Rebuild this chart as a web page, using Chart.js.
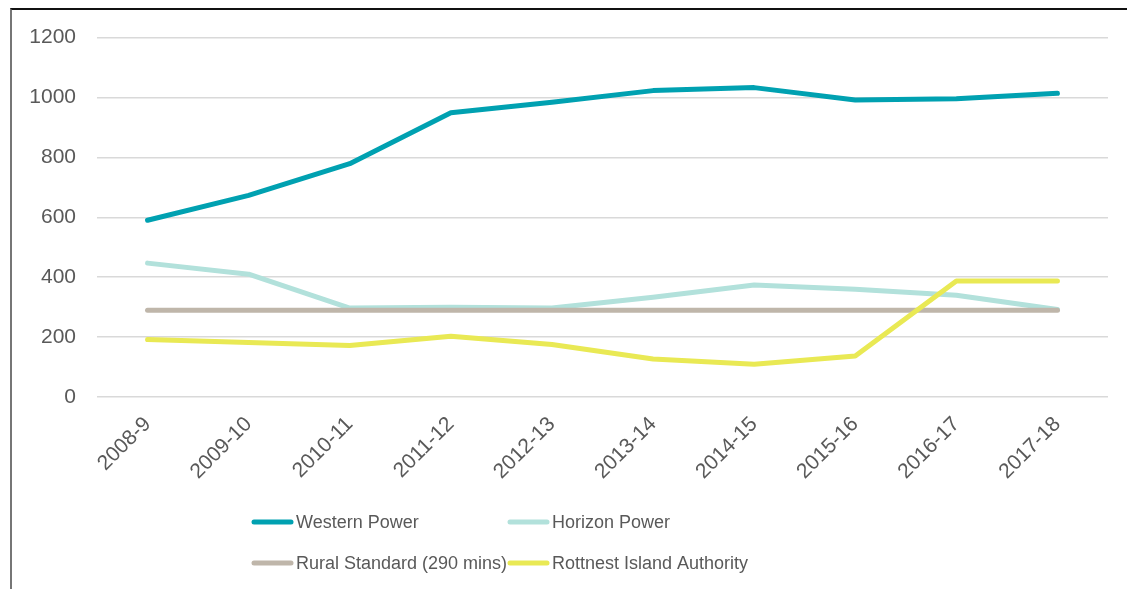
<!DOCTYPE html>
<html>
<head>
<meta charset="utf-8">
<script src="https://cdn.jsdelivr.net/npm/chart.js@4.4.1/dist/chart.umd.min.js"></script>
<style>
  html, body { margin: 0; padding: 0; background: #fff; }
  body { width: 1127px; height: 589px; overflow: hidden; position: relative; }
  #frame { position: absolute; left: 10px; top: 8px; width: 1130px; height: 600px;
           border-left: 2px solid #767676; border-top: 2px solid #111; }
  #wrap { position: absolute; left: 12px; top: 4px; width: 1115px; height: 585px; }
</style>
</head>
<body>
<div id="frame"></div>
<div id="wrap"><canvas id="c"></canvas></div>
<script>
const categories = ["2008-9","2009-10","2010-11","2011-12","2012-13","2013-14","2014-15","2015-16","2016-17","2017-18"];
const westernPower = [590, 673, 779, 949, 984, 1023, 1033, 992, 996, 1014];
const horizonPower = [447, 410, 297, 300, 297, 333, 374, 360, 340, 292];
const ruralStandard = [290, 290, 290, 290, 290, 290, 290, 290, 290, 290];
const rottnest = [192, 182, 172, 203, 175, 127, 109, 137, 387, 387];
const seriesNames = ["Western Power", "Horizon Power", "Rural Standard (290 mins)", "Rottnest Island Authority"];
const yTicks = [0, 200, 400, 600, 800, 1000, 1200];

const colors = ["#00A1B1", "#B2E1DB", "#BFB6AA", "#E9E954"];

const legendPlugin = {
  id: 'gridLegend',
  afterDraw(chart) {
    const ctx = chart.ctx;
    const cols = [240, 496];
    const rows = [518, 559];
    ctx.save();
    ctx.font = '18px "Liberation Sans", Arial, sans-serif';
    ctx.textBaseline = 'middle';
    ctx.textAlign = 'left';
    chart.data.datasets.forEach((ds, i) => {
      const x = cols[i % 2], y = rows[Math.floor(i / 2)];
      ctx.strokeStyle = ds.borderColor;
      ctx.lineWidth = 5;
      ctx.lineCap = 'round';
      ctx.beginPath();
      ctx.moveTo(x + 2, y);
      ctx.lineTo(x + 39, y);
      ctx.stroke();
      ctx.fillStyle = '#595959';
      ctx.fillText(ds.label, x + 44, y + 1);
    });
    ctx.restore();
  }
};

const mk = (label, data, color, order) => ({
  label, data, borderColor: color, backgroundColor: color,
  borderWidth: 5, pointRadius: 0, pointHoverRadius: 0, fill: false,
  borderCapStyle: 'round', borderJoinStyle: 'round', order, tension: 0
});

new Chart(document.getElementById('c'), {
  type: 'line',
  data: {
    labels: categories,
    datasets: [
      mk(seriesNames[0], westernPower, colors[0], 3),
      mk(seriesNames[1], horizonPower, colors[1], 2),
      mk(seriesNames[2], ruralStandard, colors[2], 1),
      mk(seriesNames[3], rottnest, colors[3], 0)
    ]
  },
  options: {
    responsive: true,
    maintainAspectRatio: false,
    animation: false,
    layout: { padding: { top: 21, right: 19, bottom: 0, left: 0 } },
    plugins: { legend: { display: false }, tooltip: { enabled: false } },
    scales: {
      x: {
        offset: true,
        grid: { display: false, drawTicks: false },
        border: { display: false },
        ticks: {
          color: '#595959', font: { size: 21, family: '"Liberation Sans", Arial, sans-serif' },
          maxRotation: 45, minRotation: 45, padding: 15, autoSkip: false
        },
        afterFit(s) { s.height = 192; }
      },
      y: {
        min: 0, max: 1200,
        afterBuildTicks(s) { s.ticks = yTicks.map(v => ({ value: v })); },
        grid: { color: '#D9D9D9', lineWidth: 1.5, drawTicks: false },
        border: { display: false },
        ticks: {
          color: '#595959', font: { size: 21, family: '"Liberation Sans", Arial, sans-serif' },
          padding: 21,
          callback: (v) => String(v)
        },
        afterFit(s) { s.width = 85; }
      }
    }
  },
  plugins: [legendPlugin]
});
</script>
</body>
</html>
